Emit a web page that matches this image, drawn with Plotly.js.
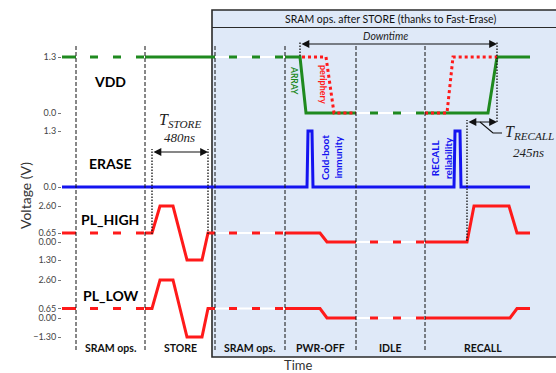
<!DOCTYPE html>
<html><head><meta charset="utf-8">
<script src="https://cdn.plot.ly/plotly-3.0.1.min.js"></script>
<style>html,body{margin:0;padding:0;background:#fff}</style>
</head><body><div id="chart" style="width:556px;height:373px"></div>
<script>
// ---------------- data (time: arbitrary units, voltage: V) ----------------
const signalNames = ["VDD", "ERASE", "PL_HIGH", "PL_LOW"];
const phaseNames  = ["SRAM ops.", "STORE", "SRAM ops.", "PWR-OFF", "IDLE", "RECALL"];
const phaseBounds = [14, 83, 153, 223, 294, 363, 478];
const brokenSpans = [[14, 83], [153, 223], [294, 363]];   // time-axis breaks (drawn dashed)

const vddT = [0, 14, 83, 153, 223, 238, 244, 294, 363, 426, 435, 468];
const vddV = [1.3, 1.3, 1.3, 1.3, 1.3, 1.3, 0, 0, 0, 0, 1.3, 1.3];

const periT = [240, 264, 272, 294, null, 363, 385, 391, 435];
const periV = [1.3, 1.3, 0, 0, null, 0, 0, 1.3, 1.3];

const eraseT = [0, 245, 246, 250, 251, 392, 393, 398, 399, 468];
const eraseV = [0, 0, 1.3, 1.3, 0, 0, 1.3, 1.3, 0, 0];

const plHighT = [0, 14, 83, 90, 98, 111, 125, 140, 146, 153, 223, 258, 265, 294, 363, 405, 412, 447, 455, 468];
const plHighV = [0.65, 0.65, 0.65, 0.65, 2.6, 2.6, -1.3, -1.3, 0.65, 0.65, 0.65, 0.65, 0, 0, 0, 0, 2.6, 2.6, 0.65, 0.65];

const plLowT = [0, 14, 83, 90, 98, 111, 125, 140, 146, 153, 223, 258, 265, 294, 363, 448, 455, 468];
const plLowV = [0.65, 0.65, 0.65, 0.65, 2.6, 2.6, -1.3, -1.3, 0.65, 0.65, 0.65, 0.65, 0, 0, 0, 0, 0.65, 0.65];

const vddTickVals = [0, 1.3],             vddTickText = ["0.0", "1.3"];
const eraseTickVals = [0, 1.3],           eraseTickText = ["0.0", "1.3"];
const plHighTickVals = [-1.3, 0, 0.65, 2.6], plHighTickText = ["1.30", "0.00", "0.65", "2.60"];
const plLowTickVals = [-1.3, 0, 0.65, 2.6],  plLowTickText = ["\u22121.30", "0.00", "0.65", "2.60"];

const tStoreSpan = [90, 146],  tStoreText = "480ns";
const tRecallSpan = [405, 435], tRecallText = "245ns";
const downtimeSpan = [238, 435];

// ---------------- layout helpers ----------------
const W = 556, H = 373, ML = 62, MT = 10, MB = 16;
const PH = H - MT - MB, PW = W - ML;
const py = p => (H - MB - p) / PH;          // pixel y -> paper
const px = p => (p - ML) / PW;              // pixel x -> paper
function axisFor(pTop, pBot, v1, p1, v2, p2) {
  const s = (p2 - p1) / (v1 - v2);
  return {domain: [py(pBot), py(pTop)], range: [v2 - (pBot - p2) / s, v1 + (p1 - pTop) / s]};
}
const GREEN = "#1f8a1f", RED = "#ff1a1a", BLUE = "#1414f0";
const FONT = "Lato, 'Open Sans', sans-serif";
const SERIF = "'Liberation Serif', 'DejaVu Serif', serif";

function isBroken(a, b) { return brokenSpans.some(s => s[0] === a && s[1] === b); }
function signalTraces(t, v, yaxis, color) {
  const out = [], sx = [], sy = [];
  for (let i = 0; i < t.length; i++) {
    if (i > 0 && isBroken(t[i - 1], t[i])) {
      sx.push(null); sy.push(null);
      out.push({x: [t[i - 1], t[i]], y: [v[i - 1], v[i]], yaxis, mode: "lines",
        line: {color: "#ffffff", width: 2}, hoverinfo: "skip"});
      out.push({x: [t[i - 1] + 14, t[i]], y: [v[i - 1], v[i]], yaxis, mode: "lines",
        line: {color, width: 3, dash: "8px,15px"}, hoverinfo: "skip"});
    }
    sx.push(t[i]); sy.push(v[i]);
  }
  out.push({x: sx, y: sy, yaxis, mode: "lines", line: {color, width: 3}, connectgaps: false, hoverinfo: "skip"});
  return out;
}

const traces = [].concat(
  signalTraces(vddT, vddV, "y", GREEN),
  [{x: periT, y: periV, yaxis: "y", mode: "lines", line: {color: RED, width: 3, dash: "3px,3px"}, hoverinfo: "skip"}],
  signalTraces(eraseT, eraseV, "y2", BLUE),
  signalTraces(plHighT, plHighV, "y3", RED),
  signalTraces(plLowT, plLowV, "y4", RED)
);

const yBase = {showgrid: false, zeroline: false, showline: false, ticks: "outside", ticklen: 3,
  tickwidth: 1, tickcolor: "#777", tickfont: {size: 9, color: "#444", family: FONT},
  tickmode: "array", anchor: "x", fixedrange: true};
const a1 = axisFor(40, 122, 1.3, 57, 0, 113);
const a2 = axisFor(122, 196, 1.3, 131, 0, 187);
const a3 = axisFor(196, 271, 2.6, 206, 0, 242);
const a4 = axisFor(271, 348, 2.6, 280, 0, 318);

function txt(text, xp, yp, o) {
  return Object.assign({text, x: px(xp), y: py(yp), xref: "paper", yref: "paper", showarrow: false,
    xanchor: "center", yanchor: "middle", font: {family: FONT, size: 10, color: "#111"}}, o || {});
}
function dblArrow(span, yp) {
  return {x: span[1], y: py(yp), xref: "x", yref: "paper", ax: span[0], axref: "x", ay: 0, ayref: "pixel",
    text: "", showarrow: true, arrowside: "end+start", arrowhead: 2, startarrowhead: 2,
    arrowsize: 1.3, startarrowsize: 1.3, arrowwidth: 1.2, arrowcolor: "#111"};
}

const annotations = [
  txt("Example op. [Fig. 3]", 0, 3, {xanchor: "left", yanchor: "bottom", font: {family: FONT, size: 22, color: "#44546a"}}),
  txt("SRAM ops. after STORE (thanks to Fast-Erase)", 390, 19, {font: {family: FONT, size: 10.5, color: "#111"}}),
  txt("<i>Downtime</i>", 385, 36, {font: {family: FONT, size: 10.5, color: "#222"}}),
  dblArrow(downtimeSpan, 44),
  txt(signalNames[0], 110, 81, {font: {family: FONT, size: 14, color: "#000", weight: "bold"}}),
  txt(signalNames[1], 110, 163, {font: {family: FONT, size: 14, color: "#000", weight: "bold"}}),
  txt(signalNames[2], 110, 220, {font: {family: FONT, size: 14, color: "#000", weight: "bold"}}),
  txt(signalNames[3], 110, 295, {font: {family: FONT, size: 14, color: "#000", weight: "bold"}}),
  txt("<b>ARRAY</b>", 294, 80, {textangle: 90, font: {family: FONT, size: 8.5, color: GREEN}}),
  txt("<b>periphery</b>", 323, 84, {textangle: 90, font: {family: FONT, size: 9, color: RED}}),
  txt("<b>Cold-boot<br>immunity</b>", 331, 158, {textangle: -90, font: {family: FONT, size: 10, color: BLUE}}),
  txt("<b>RECALL<br>reliability</b>", 441, 158, {textangle: -90, font: {family: FONT, size: 10, color: BLUE}}),
  txt("<i>T<sub>STORE</sub></i>", 180, 121, {font: {family: SERIF, size: 16, color: "#222"}}),
  txt("<i>" + tStoreText + "</i>", 179, 137, {font: {family: SERIF, size: 13, color: "#222"}}),
  dblArrow(tStoreSpan, 152),
  dblArrow(tRecallSpan, 122),
  txt("<i>T<sub>RECALL</sub></i>", 503, 132, {xanchor: "left", font: {family: SERIF, size: 16, color: "#222"}}),
  txt("<i>" + tRecallText + "</i>", 528, 152, {font: {family: SERIF, size: 13, color: "#222"}}),
  txt("Voltage (V)", 25, 196, {textangle: -90, font: {family: FONT, size: 14, color: "#333"}}),
  txt("Time", 298, 365, {font: {family: FONT, size: 13, color: "#333"}})
];
for (let i = 0; i < phaseNames.length; i++) {
  const c = (phaseBounds[i] + phaseBounds[i + 1]) / 2;
  annotations.push(Object.assign(txt("<b>" + phaseNames[i] + "</b>", 0, 348,
    {font: {family: FONT, size: 10.5, color: "#111"}}), {x: c, xref: "x"}));
}

const shapes = [
  {type: "rect", xref: "paper", yref: "paper", x0: px(212), x1: 1.2, y0: py(357), y1: py(10),
    fillcolor: "#dfe9f8", line: {color: "#2a2a2a", width: 1.6}, layer: "below"},
  {type: "line", xref: "paper", yref: "paper", x0: px(212), x1: 1.2, y0: py(27.5), y1: py(27.5),
    line: {color: "#2a2a2a", width: 1.2}, layer: "below"}
];
for (let i = 0; i < phaseBounds.length - 1; i++) {
  shapes.push({type: "line", xref: "x", yref: "paper", x0: phaseBounds[i], x1: phaseBounds[i],
    y0: py(350), y1: py(44), line: {color: "#111", width: 1, dash: "4px,2px"}});
}
function dotted(t, yTop, yBot) {
  return {type: "line", xref: "x", yref: "paper", x0: t, x1: t, y0: py(yBot), y1: py(yTop),
    line: {color: "#111", width: 1.3, dash: "1.5px,1.5px"}};
}
shapes.push(dotted(tStoreSpan[0], 149, 234), dotted(tStoreSpan[1], 149, 234),
  dotted(downtimeSpan[0], 41, 56), dotted(downtimeSpan[1], 41, 122), dotted(tRecallSpan[0], 120, 241));
shapes.push({type: "path", xref: "x", yref: "paper", line: {color: "#111", width: 1.1},
  path: "M " + (tRecallSpan[0] + 13) + "," + py(122) + " L " + (tRecallSpan[0] + 26) + "," + py(133) +
        " L " + (tRecallSpan[0] + 35) + "," + py(133)});

const layout = {
  width: W, height: H, margin: {l: ML, r: 0, t: MT, b: MB},
  paper_bgcolor: "#ffffff", plot_bgcolor: "rgba(0,0,0,0)", showlegend: false,
  font: {family: FONT},
  xaxis: {range: [0, PW], showgrid: false, zeroline: false, showline: false, showticklabels: false,
    ticks: "", fixedrange: true},
  yaxis:  Object.assign({}, yBase, a1, {tickvals: vddTickVals, ticktext: vddTickText}),
  yaxis2: Object.assign({}, yBase, a2, {tickvals: eraseTickVals, ticktext: eraseTickText}),
  yaxis3: Object.assign({}, yBase, a3, {tickvals: plHighTickVals, ticktext: plHighTickText}),
  yaxis4: Object.assign({}, yBase, a4, {tickvals: plLowTickVals, ticktext: plLowTickText}),
  annotations, shapes
};
Plotly.newPlot("chart", traces, layout, {staticPlot: true, displayModeBar: false});
</script></body></html>
